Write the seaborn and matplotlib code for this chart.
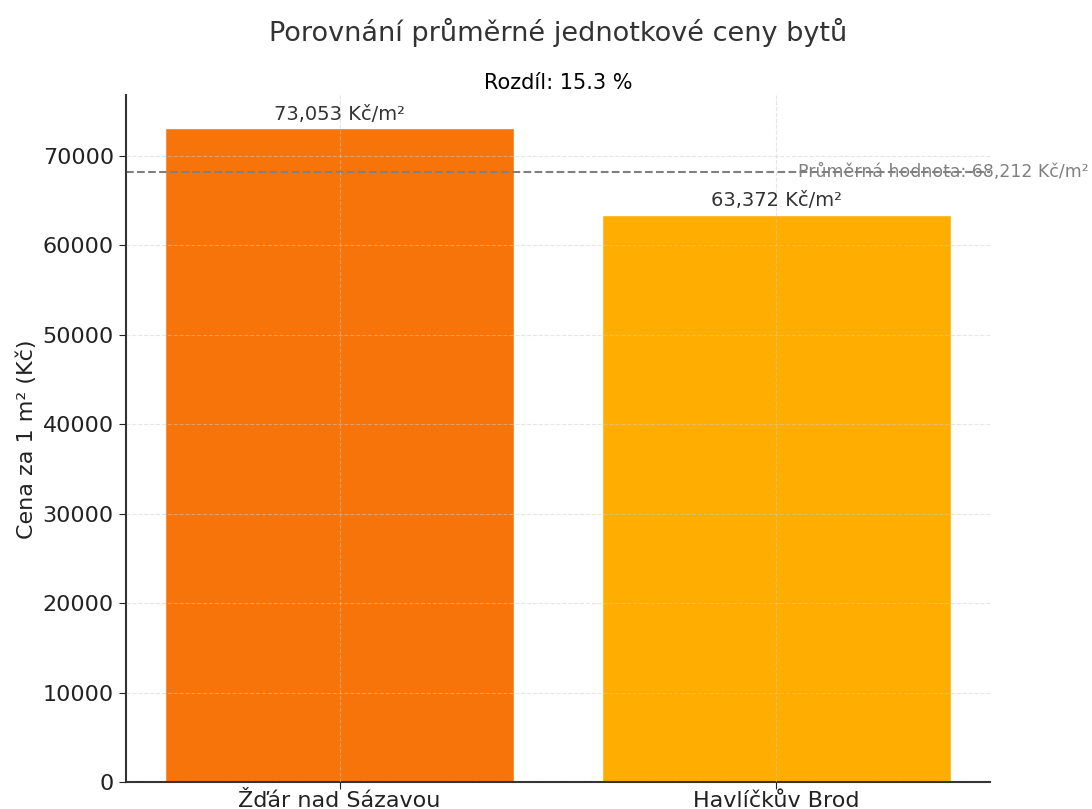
import matplotlib
matplotlib.use("Agg")
import matplotlib.pyplot as plt
import seaborn as sns
import pandas as pd

# data
cities = ["Žďár nad Sázavou", "Havlíčkův Brod"]
prices = [73053, 63372]
bar_colors = ["#F7740A", "#FFAE00"]

mean_price = sum(prices) / len(prices)
diff_pct = (prices[0] - prices[1]) / prices[1] * 100

df = pd.DataFrame({"mesto": cities, "cena": prices})

sns.set_style("ticks")
plt.rcParams["font.family"] = ["DejaVu Sans"]

fig, ax = plt.subplots(figsize=(10.92, 8.09), dpi=100)
sns.barplot(data=df, x="mesto", y="cena", hue="mesto", palette=bar_colors,
            legend=False, width=0.8, saturation=1, ax=ax)

ax.set_xlim(-0.49, 1.49)
ax.set_ylim(0, max(prices) * 1.05)
ax.grid(True, linestyle="--", alpha=0.5)
ax.set_axisbelow(False)
sns.despine(ax=ax)
for s in ["left", "bottom"]:
    ax.spines[s].set_linewidth(1.5)
    ax.spines[s].set_color("#333333")

ax.axhline(mean_price, color="gray", linestyle="--", linewidth=1.5)
ax.text(1.05, mean_price, f"Průměrná hodnota: {mean_price:,.0f} Kč/m²",
        color="gray", va="center", ha="left", fontsize=12.5)

for i, v in enumerate(prices):
    ax.text(i, v + 500, f"{v:,} Kč/m²", ha="center", va="bottom",
            fontsize=14, color="#333333")

ax.set_xlabel("")
ax.set_ylabel("Cena za 1 m² (Kč)", fontsize=16, color="#222222")
ax.tick_params(axis="y", labelsize=16, colors="#222222", length=5)
ax.tick_params(axis="x", labelsize=16, colors="#222222", length=5, pad=1)
ax.set_title(f"Rozdíl: {diff_pct:.1f} %", fontsize=15, pad=5, color="black")
fig.suptitle("Porovnání průměrné jednotkové ceny bytů", fontsize=19.5,
             color="#333333", x=0.511, y=0.978)

fig.subplots_adjust(left=0.115, right=0.907, top=0.882, bottom=0.033)
fig.savefig("out.png", dpi=100)
